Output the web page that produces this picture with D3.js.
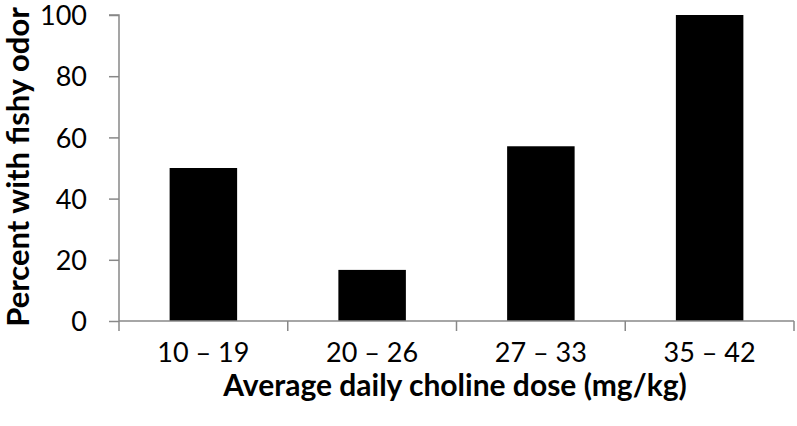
<!DOCTYPE html>
<html><head><meta charset="utf-8">
<script src="https://cdn.jsdelivr.net/npm/d3@7"></script>
<style>body{margin:0;background:#fff}svg{display:block}</style>
</head><body>
<script>
const categories = ["10 – 19", "20 – 26", "27 – 33", "35 – 42"];
const values = [50, 16.7, 57.1, 100];
const yTicks = [0, 20, 40, 60, 80, 100];

const W = 797, H = 426;
const m = {left: 119, right: 3, top: 15, bottom: 105};
const svg = d3.select("body").append("svg").attr("width", W).attr("height", H);
const font = "Lato, 'Open Sans', sans-serif";

const xb = d3.scaleBand().domain(categories).range([m.left, W - m.right]);
const y = d3.scaleLinear().domain([0, 100]).range([H - m.bottom, m.top]);

svg.append("g").selectAll("rect").data(values).join("rect")
  .attr("x", (d, i) => xb(categories[i]) + xb.bandwidth() * 0.3)
  .attr("width", xb.bandwidth() * 0.4)
  .attr("y", d => y(d)).attr("height", d => y(0) - y(d))
  .attr("fill", "#000");

const yAxis = svg.append("g").attr("transform", `translate(${m.left},0)`)
  .call(d3.axisLeft(y).tickValues(yTicks).tickSize(10).tickPadding(22));
yAxis.select(".domain").attr("stroke", "#888").attr("stroke-width", 1.5).attr("d", `M-10,${y(100)}H0V${y(0)}`);
yAxis.selectAll(".tick line").attr("stroke", "#888").attr("stroke-width", 1.5);
yAxis.selectAll("text").attr("font-family", font).attr("font-size", 27).attr("fill", "#000").attr("dy", "0.36em");

const xAxis = svg.append("g").attr("transform", `translate(0,${y(0)})`)
  .call(d3.axisBottom(xb).tickSize(0).tickPadding(22));
xAxis.select(".domain").attr("stroke", "#888").attr("stroke-width", 1.5).attr("d", `M${m.left},0H${W - m.right}`);
xAxis.selectAll("text").attr("font-family", font).attr("font-size", 27).attr("fill", "#000");
const bounds = categories.map(c => xb(c)).concat([xb(categories[3]) + xb.bandwidth()]);
xAxis.append("g").selectAll("line").data(bounds).join("line")
  .attr("x1", d => d).attr("x2", d => d).attr("y1", 0).attr("y2", 10)
  .attr("stroke", "#888").attr("stroke-width", 1.5);

svg.append("text").attr("x", 455).attr("y", 396)
  .attr("text-anchor", "middle").attr("font-family", font).attr("font-weight", "bold")
  .attr("font-size", 30).text("Average daily choline dose (mg/kg)");

svg.append("text").attr("transform", `translate(29,167) rotate(-90)`)
  .attr("text-anchor", "middle").attr("font-family", font).attr("font-weight", "bold")
  .attr("font-size", 31).text("Percent with fishy odor");
</script>
</body></html>
